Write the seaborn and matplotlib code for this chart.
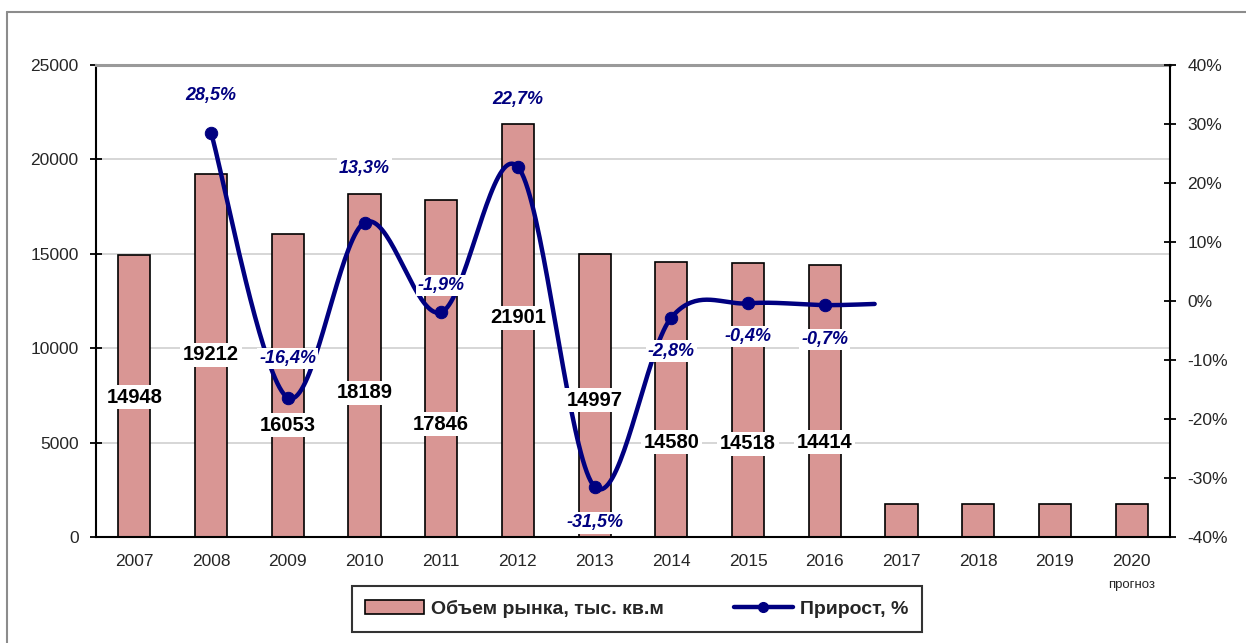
import numpy as np
import matplotlib
matplotlib.use('Agg')
import matplotlib.pyplot as plt
from matplotlib.lines import Line2D
from matplotlib.patches import Patch
import seaborn as sns

# data
YEARS = ['2007', '2008', '2009', '2010', '2011', '2012', '2013',
         '2014', '2015', '2016', '2017', '2018', '2019', '2020']
VOLUME = [14948, 19212, 16053, 18189, 17846, 21901, 14997,
          14580, 14518, 14414, 1750, 1750, 1750, 1750]
VOLUME_LABELS = ['14948', '19212', '16053', '18189', '17846', '21901', '14997',
                 '14580', '14518', '14414']
GROWTH_YEARS = ['2008', '2009', '2010', '2011', '2012', '2013', '2014', '2015', '2016']
GROWTH = [28.5, -16.4, 13.3, -1.9, 22.7, -31.5, -2.8, -0.4, -0.7]
GROWTH_LABELS = ['28,5%', '-16,4%', '13,3%', '-1,9%', '22,7%', '-31,5%', '-2,8%', '-0,4%', '-0,7%']
GROWTH_TAIL = -0.5          # line runs on a little past 2016

# label placement (layout, not data)
VOLUME_LABEL_Y = [7415, 9640, 5930, 7630, 5985, 11600, 7256, 5030, 4930, 5030]
GROWTH_LABEL_Y = [34.9, -9.8, 22.4, 2.6, 34.2, -37.6, -8.5, -6.0, -6.5]
TAIL_X = 9.65

BAR_COLOR = '#D99694'
NAVY = '#000080'
W, H = 1246, 643

sns.set_style('white')
plt.rcParams['font.family'] = ['Liberation Sans', 'DejaVu Sans']


def excel_smooth(x, y, n=40):
  ''' Catmull-Rom style bezier, like excel's smoothed line '''
  pts = np.column_stack([x, y]).astype(float)
  ext = np.vstack([pts[0], pts, pts[-1]])
  t = np.linspace(0, 1, n)[:, None]
  out = []
  for i in range(len(pts) - 1):
    p0, p3 = ext[i + 1], ext[i + 2]
    c1 = p0 + (ext[i + 2] - ext[i]) / 6
    c2 = p3 - (ext[i + 3] - ext[i + 1]) / 6
    seg = (1 - t) ** 3 * p0 + 3 * (1 - t) ** 2 * t * c1 + 3 * (1 - t) * t ** 2 * c2 + t ** 3 * p3
    out.append(seg if i == 0 else seg[1:])
  out = np.vstack(out)
  return out[:, 0], out[:, 1]


fig = plt.figure(figsize=(W / 100, H / 100), dpi=100)
ax = fig.add_axes([96 / W, 1 - 537 / H, (1170 - 96) / W, (537 - 65) / H])

sns.barplot(x=YEARS, y=VOLUME, ax=ax, color=BAR_COLOR, saturation=1,
            width=0.42, edgecolor='black', linewidth=1.2, zorder=2)
ax.set_xlim(-0.5, len(YEARS) - 0.5)
ax.set_ylim(0, 25000)
ax.set_yticks(range(0, 25001, 5000))
ax.set_xlabel('')
ax.set_ylabel('')
ax.yaxis.grid(True, color='#cfcfcf', lw=1.2)
ax.set_axisbelow(True)
ax.set_xticks(range(len(YEARS)))
ax.set_xticklabels(YEARS)
ax.set_xticks(np.arange(0.5, len(YEARS) - 1, 1), minor=True)
ax.tick_params(axis='x', which='major', length=0, pad=12, labelsize=12.5)
ax.tick_params(axis='x', which='minor', direction='inout', length=9, width=1.3, color='black')
ax.tick_params(axis='y', direction='inout', length=9, width=1.3, pad=8, labelsize=12.5, color='black')
for s in ['left', 'bottom']:
  ax.spines[s].set_color('black')
  ax.spines[s].set_linewidth(1.5)
ax.spines['top'].set_color('#9a9a9a')
ax.spines['top'].set_linewidth(2.2)
ax.spines['right'].set_visible(False)

ax2 = ax.twinx()
ax2.set_ylim(-40, 40)
ax2.set_yticks(range(-40, 41, 10))
ax2.set_yticklabels([f'{v}%' for v in range(-40, 41, 10)])
ax2.tick_params(axis='y', direction='inout', length=9, width=1.3, pad=8, labelsize=12.5, color='black')
for s in ['left', 'bottom', 'top']:
  ax2.spines[s].set_visible(False)
ax2.spines['right'].set_color('black')
ax2.spines['right'].set_linewidth(1.5)

gx = [YEARS.index(y) for y in GROWTH_YEARS]
sx, sy = excel_smooth(gx + [TAIL_X], GROWTH + [GROWTH_TAIL])
sns.lineplot(x=sx, y=sy, ax=ax2, sort=False, estimator=None, color=NAVY, lw=3.2, zorder=3)
sns.scatterplot(x=gx, y=GROWTH, ax=ax2, color=NAVY, s=80, edgecolor=NAVY, zorder=4)
ax2.set_xlim(-0.5, len(YEARS) - 0.5)

for i, (txt, yv) in enumerate(zip(GROWTH_LABELS, GROWTH_LABEL_Y)):
  ax2.text(gx[i], yv, txt, ha='center', va='center', color=NAVY, fontsize=13,
           fontweight='bold', fontstyle='italic', zorder=5,
           bbox=dict(facecolor='white', edgecolor='none', pad=1.5))

for i, (txt, yv) in enumerate(zip(VOLUME_LABELS, VOLUME_LABEL_Y)):
  ax2.text(i, yv, txt, transform=ax.transData, ha='center', va='center', color='black',
           fontsize=14.5, fontweight='bold', zorder=6,
           bbox=dict(facecolor='white', edgecolor='none', pad=2))

ax.text(len(YEARS) - 1, -0.102, 'прогноз', transform=ax.get_xaxis_transform(),
        ha='center', va='center', fontsize=9.5)

handles = [Patch(facecolor=BAR_COLOR, edgecolor='black', lw=1.2),
           Line2D([0], [0], color=NAVY, lw=3.2, marker='o', markersize=7)]
leg = fig.legend(handles, ['Объем рынка, тыс. кв.м', 'Прирост, %'], loc='center',
                 bbox_to_anchor=(637 / W, 1 - 609 / H), ncol=2, frameon=True, fancybox=False,
                 edgecolor='black', prop=dict(weight='bold', size=14),
                 handlelength=3.0, handletextpad=0.4, columnspacing=3.6, borderpad=0.7)
leg.get_frame().set_linewidth(1.5)

# outer chart border
fig.add_artist(Line2D([7 / W, 1], [1 - 12 / H] * 2, transform=fig.transFigure, color='#8c8c8c', lw=1.5))
fig.add_artist(Line2D([7 / W] * 2, [0, 1 - 12 / H], transform=fig.transFigure, color='#8c8c8c', lw=1.5))

fig.savefig('out.png', dpi=100)
